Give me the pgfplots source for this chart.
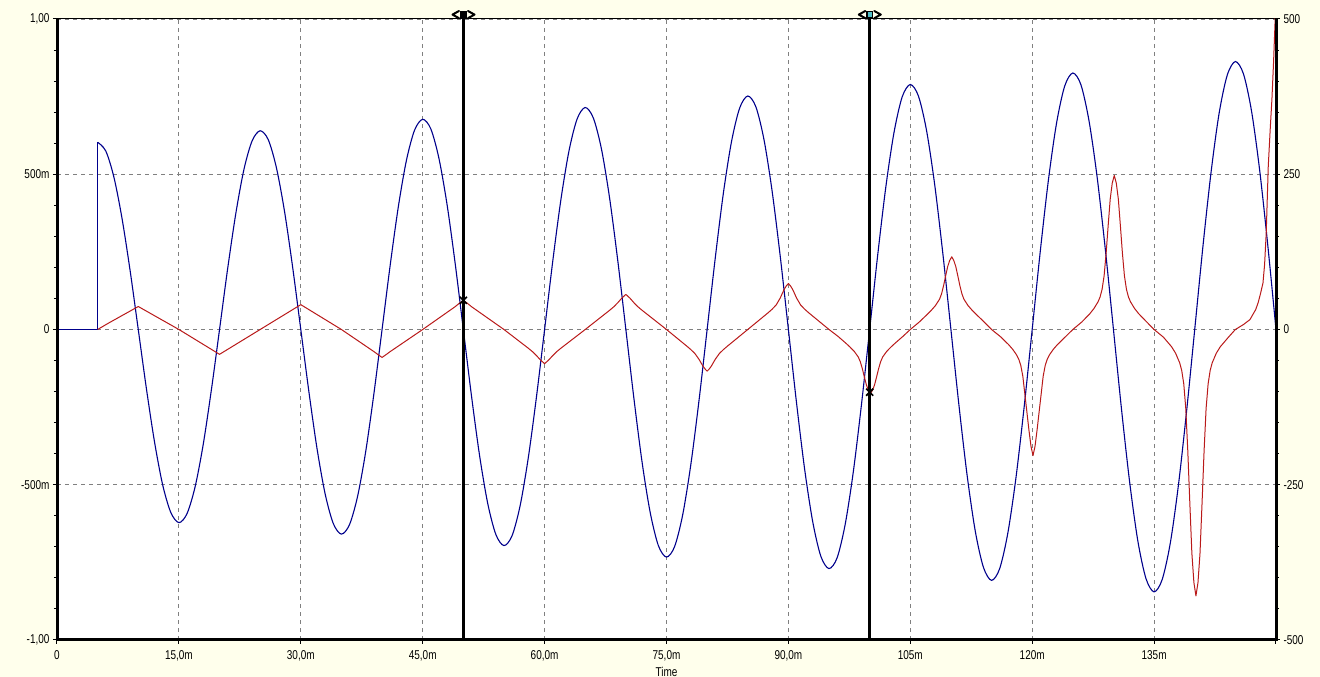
\documentclass[border=0pt]{standalone}
\usepackage{fontspec}
\setmainfont{Liberation Sans}[FakeStretch=0.78]
\usepackage{pgfplots}
\pgfplotsset{compat=1.18}
\definecolor{bgyel}{RGB}{255,255,236}
\definecolor{bluec}{RGB}{0,0,140}
\definecolor{redc}{RGB}{185,25,25}
\definecolor{gridc}{RGB}{128,128,128}
\definecolor{curcyan}{RGB}{80,190,200}
\begin{document}
\begin{tikzpicture}
\fill[bgyel] (0pt,0pt) rectangle (1320pt,677pt);
\begin{axis}[
  at={(57pt,37pt)}, anchor=south west,
  scale only axis, width=1219pt, height=621pt,
  xmin=0, xmax=150, ymin=-1, ymax=1,
  axis background/.style={fill=white},
  axis line style={black, line width=1pt},
  xtick={0,15,30,45,60,75,90,105,120,135,150},
  xticklabels={0,{15,0m},{30,0m},{45,0m},{60,0m},{75,0m},{90,0m},105m,120m,135m,{}},
  ytick={-1,-0.5,0,0.5,1},
  yticklabels={{-1,00},-500m,0,500m,{1,00}},
  minor y tick num=4,
  xtick pos=left, ytick pos=left,
  tick align=outside,
  major tick length=4pt, minor tick length=3pt,
  every tick/.style={black, line width=1pt},
  grid=major,
  major grid style={gridc, line width=0.9pt, dash pattern=on 4pt off 4pt},
  ticklabel style={font=\fontsize{12.8}{13}\selectfont},
  xticklabel style={yshift=-3.5pt},
  xlabel={Time},
  xlabel style={font=\fontsize{12.8}{13}\selectfont, inner sep=0pt, yshift=-2pt},
]
\addplot[bluec, line width=1.1pt] coordinates {(0,0)(5,0)(5,0.603)};
\addplot[bluec, line width=1.1pt, smooth] coordinates {
(5,0.603)(6,0.575)(7,0.491)(8,0.358)(9,0.189)(10,0)(11,-0.190)(12,-0.362)(13,-0.500)(14,-0.589)
(15,-0.622)(16,-0.593)(17,-0.506)(18,-0.369)(19,-0.194)(20,0)(21,0.196)(22,0.373)(23,0.515)(24,0.607)
(25,0.640)(26,0.611)(27,0.521)(28,0.380)(29,0.200)(30,0)(31,-0.201)(32,-0.384)(33,-0.530)(34,-0.625)
(35,-0.659)(36,-0.628)(37,-0.536)(38,-0.391)(39,-0.206)(40,0)(41,0.207)(42,0.395)(43,0.545)(44,0.642)
(45,0.677)(46,0.646)(47,0.551)(48,0.402)(49,0.212)(50,0)(51,-0.213)(52,-0.406)(53,-0.560)(54,-0.660)
(55,-0.696)(56,-0.664)(57,-0.566)(58,-0.412)(59,-0.217)(60,0)(61,0.219)(62,0.417)(63,0.575)(64,0.678)
(65,0.715)(66,0.681)(67,0.581)(68,0.423)(69,0.223)(70,0)(71,-0.224)(72,-0.428)(73,-0.590)(74,-0.696)
(75,-0.733)(76,-0.699)(77,-0.596)(78,-0.434)(79,-0.229)(80,0)(81,0.230)(82,0.439)(83,0.605)(84,0.713)
(85,0.752)(86,0.717)(87,0.611)(88,0.445)(89,0.235)(90,0)(91,-0.236)(92,-0.450)(93,-0.620)(94,-0.731)
(95,-0.770)(96,-0.735)(97,-0.626)(98,-0.456)(99,-0.240)(100,0)(101,0.242)(102,0.461)(103,0.635)(104,0.749)
(105,0.789)(106,0.752)(107,0.641)(108,0.467)(109,0.246)(110,0)(111,-0.247)(112,-0.471)(113,-0.650)(114,-0.766)
(115,-0.808)(116,-0.770)(117,-0.656)(118,-0.478)(119,-0.252)(120,0)(121,0.253)(122,0.482)(123,0.665)(124,0.784)
(125,0.826)(126,0.788)(127,0.671)(128,0.489)(129,0.258)(130,0)(131,-0.259)(132,-0.493)(133,-0.681)(134,-0.802)
(135,-0.845)(136,-0.805)(137,-0.687)(138,-0.500)(139,-0.263)(140,0)(141,0.265)(142,0.504)(143,0.696)(144,0.819)
(145,0.863)(146,0.823)(147,0.702)(148,0.511)(149,0.269)(150,0)};
\end{axis}
\begin{axis}[
  at={(57pt,37pt)}, anchor=south west,
  scale only axis, width=1219pt, height=621pt,
  xmin=0, xmax=150, ymin=-500, ymax=500,
  axis y line*=right, axis x line=none,
  axis line style={black, line width=1pt},
  ytick={-500,-250,0,250,500},
  yticklabels={-500,-250,0,250,500},
  minor y tick num=4,
  tick align=outside,
  major tick length=4pt, minor tick length=3pt,
  every tick/.style={black, line width=1pt},
  ticklabel style={font=\fontsize{12.8}{13}\selectfont},
]
\addplot[redc, line width=1pt, line join=round] coordinates {
(5,0)(6.3,10)(10,37)(15,0)(20,-40)(25,0)(30,40)(35,0)
(39,-35.6)(39.5,-40.4)(40,-45)(40.5,-40.4)(41,-35.6)(45,0)
(49,36.8)(49.5,42.2)(50,47)(50.5,42.2)(51,36.8)(55,0)
(58,-30.2)(58.5,-35.6)(59,-42)(59.5,-49.2)(60,-55)(60.5,-49.2)(61,-42)(61.5,-35.6)(62,-30.2)(65,0)
(68,30.9)(68.5,36.4)(69,43)(69.5,50.5)(70,56.5)(70.5,50.5)(71,43)(71.5,36.4)(72,30.9)(75,0)
(77.5,-26.8)(78,-32.4)(78.5,-38.8)(79,-48)(79.25,-53.7)(79.5,-59.3)(79.75,-63.7)(80,-67)(80.25,-63.7)(80.5,-59.3)(80.75,-53.7)(81,-48)(81.5,-38.8)(82,-32.4)(82.5,-26.8)(85,0)
(87.5,26.9)(88,32.7)(88.5,39.6)(89,50.8)(89.25,58.1)(89.5,65.1)(89.75,70.3)(90,74)(90.25,70.3)(90.5,65.1)(90.75,58.1)(91,50.8)(91.5,39.6)(92,32.7)(92.5,26.9)(95,0)
(96.1,-11)(97.1,-22.4)(97.6,-28.5)(98.1,-35.2)(98.6,-44.3)(98.85,-51.9)(99.1,-63.2)(99.35,-76.6)(99.6,-89.3)(99.85,-97.9)(100.1,-103)(100.35,-97.9)(100.6,-89.3)(100.85,-76.6)(101.1,-63.2)(101.35,-51.9)(101.6,-44.3)(102.1,-35.2)(102.6,-28.5)(103.1,-22.4)(104.1,-11)(105,0)
(106.1,12)(107.1,24.5)(107.6,31.1)(108.1,38.6)(108.6,48.8)(108.85,57.5)(109.1,70.8)(109.35,86.3)(109.6,101.3)(109.85,111.2)(110.1,117)(110.35,111.2)(110.6,101.3)(110.85,86.3)(111.1,70.8)(111.35,57.5)(111.6,48.8)(112.1,38.6)(112.6,31.1)(113.1,24.5)(114.1,12)(115,0)
(116.1,-11.6)(117.1,-24.4)(117.6,-31.9)(118.1,-41.3)(118.35,-47.9)(118.6,-58)(118.85,-75.4)(119.1,-104.4)(119.35,-133)(119.6,-162)(119.85,-188)(120.1,-203)(120.35,-188)(120.6,-162)(120.85,-133)(121.1,-104.4)(121.35,-75.4)(121.6,-58)(121.85,-47.9)(122.1,-41.3)(122.6,-31.9)(123.1,-24.4)(124.1,-11.6)(125,0)
(126.1,12)(127.1,25.5)(127.6,33.8)(128.1,44.5)(128.35,52.2)(128.6,64.6)(128.85,86.4)(129.1,123.2)(129.35,167.6)(129.6,210)(129.85,235.6)(130.1,248)(130.35,235.6)(130.6,210)(130.85,167.6)(131.1,123.2)(131.35,86.4)(131.6,64.6)(131.85,52.2)(132.1,44.5)(132.6,33.8)(133.1,25.5)(134.1,12)(135,0)
(136.15,-12.4)(137.15,-27.7)(137.65,-38.3)(138.15,-53.7)(138.4,-66)(138.65,-87.4)(138.9,-127.2)(139.15,-196.4)(139.4,-280.2)(139.65,-360.4)(139.9,-407.6)(140.15,-429)(140.4,-407.6)(140.65,-360.4)(140.9,-280.2)(141.15,-196.4)(141.4,-127.2)(141.65,-87.4)(141.9,-66)(142.15,-53.7)(142.65,-38.3)(143.15,-27.7)(144.15,-12.4)(145,0)
(146,8)(146.8,16)(147.5,32)(147.8,43)(148.1,58)(148.4,75)(148.6,105)(148.8,156)(149.05,263)(149.3,325)(149.5,371)(149.7,430)(149.9,500)(150,530)};
\addplot[black, line width=3pt] coordinates {(50,-500)(50,500)};
\addplot[black, line width=3pt] coordinates {(100,-500)(100,500)};
\addplot[black, only marks, mark=x, mark size=5pt, line width=1.6pt] coordinates {(50,47)(100,-101)};
\end{axis}
% thick axis borders
\draw[line width=3pt] (57pt,35.5pt) -- (57pt,658.5pt);
\draw[line width=3pt] (55.5pt,37pt) -- (1277.5pt,37pt);
\draw[line width=3pt] (1276pt,35.5pt) -- (1276pt,658.5pt);
% cursor extensions and labels
\draw[line width=3pt] (463.4pt,656pt) -- (463.4pt,660pt);
\draw[line width=3pt] (869.7pt,656pt) -- (869.7pt,660pt);
\draw[line width=2pt, line cap=round, line join=round] (459pt,666pt) -- (452.5pt,662.4pt) -- (459pt,658.8pt);
\draw[line width=2pt, line cap=round, line join=round] (468pt,666pt) -- (474.5pt,662.4pt) -- (468pt,658.8pt);
\fill[black] (460.4pt,659pt) rectangle (466.6pt,665.8pt);
\draw[line width=2pt, line cap=round, line join=round] (865.3pt,666pt) -- (858.8pt,662.4pt) -- (865.3pt,658.8pt);
\draw[line width=2pt, line cap=round, line join=round] (874.3pt,666pt) -- (880.8pt,662.4pt) -- (874.3pt,658.8pt);
\filldraw[fill=curcyan, draw=black, line width=1.2pt] (866.9pt,659.4pt) rectangle (872.5pt,665.4pt);
\pgfresetboundingbox
\path[use as bounding box] (0pt,0pt) rectangle (1320pt,677pt);
\end{tikzpicture}
\end{document}
